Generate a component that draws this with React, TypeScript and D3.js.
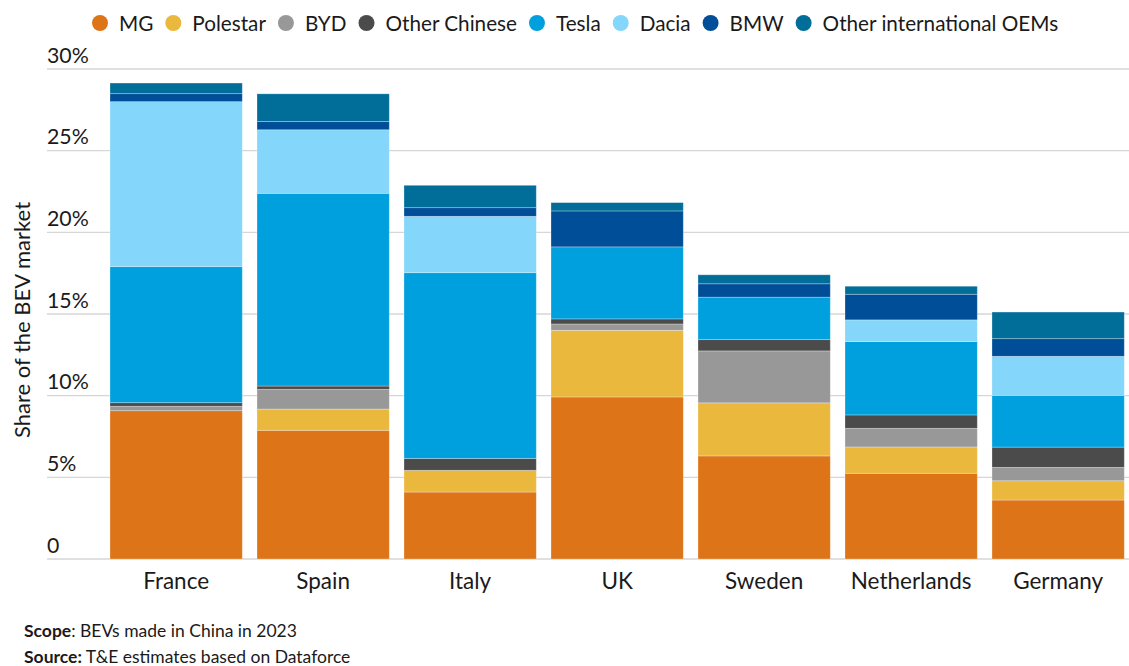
import React, { useEffect, useRef } from "react";
import * as d3 from "d3";

const countries = ["France", "Spain", "Italy", "UK", "Sweden", "Netherlands", "Germany"];
const brands = ["MG", "Polestar", "BYD", "Other Chinese", "Tesla", "Dacia", "BMW", "Other international OEMs"];
const brandColors = ["#DD7417", "#EAB83D", "#989898", "#4B4B4B", "#00A0DF", "#84D6FA", "#004E98", "#006E98"];

const mg = [9.08, 7.88, 4.1, 9.92, 6.31, 5.25, 3.61];
const polestar = [0, 1.3, 1.33, 4.08, 3.25, 1.61, 1.18];
const byd = [0.27, 1.21, 0, 0.39, 3.18, 1.14, 0.82];
const otherChinese = [0.22, 0.2, 0.73, 0.31, 0.69, 0.82, 1.24];
const tesla = [8.33, 11.8, 11.37, 4.41, 2.6, 4.49, 3.17];
const dacia = [10.1, 3.89, 3.45, 0, 0, 1.33, 2.39];
const bmw = [0.49, 0.51, 0.53, 2.2, 0.82, 1.57, 1.08];
const otherIntl = [0.65, 1.69, 1.37, 0.51, 0.55, 0.49, 1.63];

const yTicks = [0, 5, 10, 15, 20, 25, 30];
const yTickLabels = ["0", "5%", "10%", "15%", "20%", "25%", "30%"];

const W = 1129;
const H = 666;
const FONT = "Lato, 'Open Sans', sans-serif";

export default function App() {
  const ref = useRef<SVGSVGElement | null>(null);

  useEffect(() => {
    const svg = d3.select(ref.current);
    svg.selectAll("*").remove();

    const series = [mg, polestar, byd, otherChinese, tesla, dacia, bmw, otherIntl];
    const rows = countries.map((c, i) => {
      const r: any = { country: c };
      brands.forEach((b, j) => (r[b] = series[j][i]));
      return r;
    });
    const stacked = d3.stack<any>().keys(brands)(rows);

    const x = d3.scaleBand<string>().domain(countries).range([102.65, 1131.65]).paddingInner(0.1).paddingOuter(0.05);
    const y = d3.scaleLinear().domain([0, 30]).range([559, 69]);
    const color = d3.scaleOrdinal<string, string>().domain(brands).range(brandColors);

    // gridlines
    const grid = svg.append("g");
    grid
      .selectAll("line")
      .data(yTicks)
      .join("line")
      .attr("x1", 47)
      .attr("x2", W)
      .attr("y1", (d) => y(d))
      .attr("y2", (d) => y(d))
      .attr("stroke", "#d6d6d6")
      .attr("stroke-width", 1.3);
    grid
      .selectAll("text")
      .data(yTicks)
      .join("text")
      .attr("x", 47)
      .attr("y", (d) => y(d) - 6.5)
      .attr("font-family", FONT)
      .attr("font-size", 21.3)
      .attr("fill", "#1a1a1a")
      .text((d, i) => yTickLabels[i]);

    // bars
    const layers = svg
      .append("g")
      .selectAll("g")
      .data(stacked)
      .join("g")
      .attr("fill", (d) => color(d.key));
    layers
      .selectAll("rect")
      .data((d) => d.filter((p) => p[1] - p[0] > 0))
      .join("rect")
      .attr("x", (d: any) => x(d.data.country)!)
      .attr("width", x.bandwidth())
      .attr("y", (d) => y(d[1]))
      .attr("height", (d) => y(d[0]) - y(d[1]))
      .attr("stroke", "#ffffff")
      .attr("stroke-opacity", 0.35)
      .attr("stroke-width", 0.8);

    // x labels
    svg
      .append("g")
      .selectAll("text")
      .data(countries)
      .join("text")
      .attr("x", (d) => x(d)! + x.bandwidth() / 2)
      .attr("y", 589)
      .attr("text-anchor", "middle")
      .attr("font-family", FONT)
      .attr("font-size", 22.5)
      .attr("fill", "#1a1a1a")
      .text((d) => d);

    // y title
    svg
      .append("text")
      .attr("transform", "translate(30,320) rotate(-90)")
      .attr("text-anchor", "middle")
      .attr("font-family", FONT)
      .attr("font-size", 22)
      .attr("fill", "#1a1a1a")
      .text("Share of the BEV market");

    // legend
    const legend = svg.append("g");
    let cx = 100;
    brands.forEach((b) => {
      const g = legend.append("g");
      g.append("circle").attr("cx", cx).attr("cy", 23).attr("r", 8).attr("fill", color(b));
      const t = g
        .append("text")
        .attr("x", cx + 19)
        .attr("y", 30.5)
        .attr("font-family", FONT)
        .attr("font-size", 20.7)
        .attr("fill", "#1a1a1a")
        .text(b);
      const w = (t.node() as SVGTextElement).getComputedTextLength();
      cx = cx + 19 + w + 20;
    });

    // footer
    const f1 = svg
      .append("text")
      .attr("x", 24)
      .attr("y", 636.5)
      .attr("font-family", FONT)
      .attr("font-size", 17.5)
      .attr("fill", "#1a1a1a");
    f1.append("tspan").attr("font-weight", 700).text("Scope");
    f1.append("tspan").text(": BEVs made in China in 2023");
    const f2 = svg
      .append("text")
      .attr("x", 24)
      .attr("y", 663)
      .attr("font-family", FONT)
      .attr("font-size", 17.5)
      .attr("fill", "#1a1a1a");
    f2.append("tspan").attr("font-weight", 700).text("Source:");
    f2.append("tspan").text(" T&E estimates based on Dataforce");
  }, []);

  return (
    <div style={{ position: "absolute", left: 0, top: 0, width: W, height: H, background: "#fff" }}>
      <svg ref={ref} width={W} height={H} />
    </div>
  );
}
